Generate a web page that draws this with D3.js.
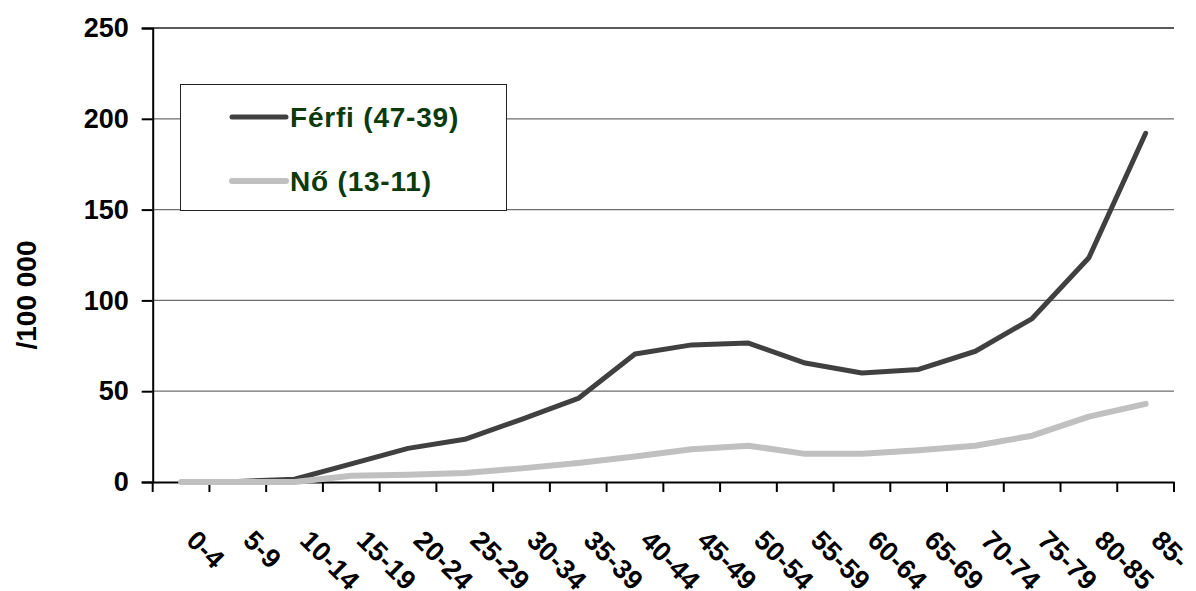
<!DOCTYPE html>
<html>
<head>
<meta charset="utf-8">
<script src="https://cdn.jsdelivr.net/npm/d3@7"></script>
<style>
  body { margin: 0; background: #fff; }
  svg { display: block; font-family: "Liberation Sans", Arial, sans-serif; font-weight: bold; }
</style>
</head>
<body>
<div id="chart"></div>
<script>
var width = 1196;
var height = 591;

var categories = ["0-4", "5-9", "10-14", "15-19", "20-24", "25-29", "30-34", "35-39", "40-44", "45-49", "50-54", "55-59", "60-64", "65-69", "70-74", "75-79", "80-85", "85-"];
var ferfi = [0, 0.3, 1.5, 10, 18.5, 23.5, 34.5, 46, 70.5, 75.5, 76.5, 65.5, 60, 62, 72, 90, 123.5, 192];
var no = [0, 0, 0, 3.5, 4, 5, 7.5, 10.5, 14, 18, 20, 15.5, 15.5, 17.5, 20, 25.5, 36, 43];
var yTicks = [0, 50, 100, 150, 200, 250];
var seriesNames = ["Férfi (47-39)", "Nő (13-11)"];
var seriesColors = ["#404040", "#c0c0c0"];

var plotLeft = 152.7, plotRight = 1174, plotTop = 28, plotBottom = 482;

var x = d3.scaleBand()
    .domain(categories)
    .range([plotLeft, plotRight]);
var y = d3.scaleLinear()
    .domain([0, 250])
    .range([plotBottom, plotTop]);

var svg = d3.select("#chart").append("svg")
    .attr("width", width)
    .attr("height", height);

// gridlines
svg.append("g")
    .selectAll("line")
    .data(yTicks.slice(1))
    .enter().append("line")
    .attr("x1", plotLeft)
    .attr("x2", plotRight)
    .attr("y1", function (d) { return y(d); })
    .attr("y2", function (d) { return y(d); })
    .attr("stroke", function (d) { return d == 250 ? "#222" : "#6e6e6e"; })
    .attr("stroke-width", 1.3);

// y axis
var yAxis = svg.append("g")
    .attr("transform", "translate(" + plotLeft + ",0)")
    .call(d3.axisLeft(y).tickValues(yTicks).tickSize(11).tickPadding(13));
yAxis.select(".domain").attr("stroke", "#000").attr("stroke-width", 2);
yAxis.selectAll(".tick line").attr("stroke", "#000").attr("stroke-width", 2);
yAxis.selectAll(".tick text")
    .attr("fill", "#000")
    .style("font-family", "'Liberation Sans', Arial, sans-serif")
    .style("font-weight", "bold")
    .style("font-size", "27px");

// x axis
var xAxis = svg.append("g")
    .attr("transform", "translate(0," + plotBottom + ")")
    .call(d3.axisBottom(x).tickSize(0).tickFormat(""));
xAxis.select(".domain").attr("stroke", "#000").attr("stroke-width", 2);

var boundaries = categories.map(function (c) { return x(c); }).concat([plotRight]);
svg.append("g")
    .selectAll("line")
    .data(boundaries)
    .enter().append("line")
    .attr("x1", function (d) { return d; })
    .attr("x2", function (d) { return d; })
    .attr("y1", plotBottom)
    .attr("y2", plotBottom + 10)
    .attr("stroke", "#000")
    .attr("stroke-width", 2);

svg.append("g")
    .selectAll("text")
    .data(categories)
    .enter().append("text")
    .attr("transform", function (d) {
        return "translate(" + (x(d) + x.bandwidth() / 2 + 4) + "," + 542 + ") rotate(45)";
    })
    .attr("text-anchor", "start")
    .style("font-size", "27px")
    .style("letter-spacing", "0.3px")
    .attr("fill", "#000")
    .text(function (d) { return d; });

// y title
svg.append("text")
    .attr("transform", "translate(36,295) rotate(-90)")
    .attr("text-anchor", "middle")
    .style("font-size", "28px")
    .attr("fill", "#000")
    .text("/100 000");

// lines
var line = d3.line()
    .x(function (d, i) { return x(categories[i]) + x.bandwidth() / 2; })
    .y(function (d) { return y(d); });

[ferfi, no].forEach(function (vals, n) {
    svg.append("path")
        .datum(vals)
        .attr("d", line)
        .attr("fill", "none")
        .attr("stroke", seriesColors[n])
        .attr("stroke-width", n == 0 ? 5 : 6)
        .attr("stroke-linecap", "round")
        .attr("stroke-linejoin", "round");
});

// legend
var legend = svg.append("g");
legend.append("rect")
    .attr("x", 180.5)
    .attr("y", 84.5)
    .attr("width", 326)
    .attr("height", 126)
    .attr("fill", "#fff")
    .attr("stroke", "#222")
    .attr("stroke-width", 1);

var legendY = [117, 181];
seriesNames.forEach(function (name, n) {
    legend.append("line")
        .attr("x1", 232)
        .attr("x2", 286)
        .attr("y1", legendY[n])
        .attr("y2", legendY[n])
        .attr("stroke", seriesColors[n])
        .attr("stroke-width", n == 0 ? 5 : 6)
        .attr("stroke-linecap", "round");
    legend.append("text")
        .attr("x", 290)
        .attr("y", legendY[n] + 10)
        .style("font-size", "28px")
        .style("letter-spacing", "0.8px")
        .attr("fill", "#0b3a0b")
        .text(name);
});
</script>
</body>
</html>
